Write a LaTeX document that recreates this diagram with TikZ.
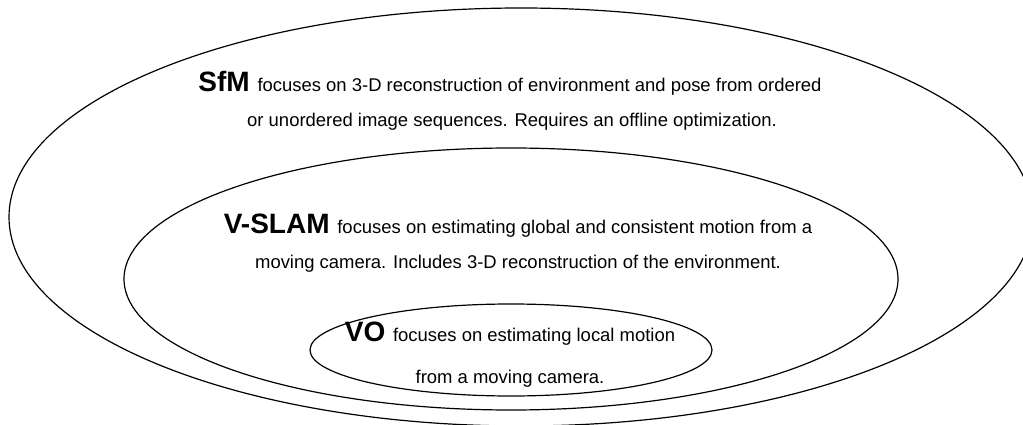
\documentclass[tikz,border=0pt]{standalone}
\usepackage{fontspec}
\setmainfont{Liberation Sans}
\usetikzlibrary{shapes.geometric}
\tikzset{
  ring/.style={ellipse, draw=black, line width=1.2pt, inner sep=0pt, outer sep=0pt},
  txt/.style={anchor=base, inner sep=0pt, font=\fontsize{18.45}{22}\selectfont},
}
\newcommand{\lbl}[1]{{\fontsize{28}{30}\selectfont\bfseries #1 }}
\begin{document}
\begin{tikzpicture}[x=1pt,y=-1pt]
\useasboundingbox (0,0) rectangle (1023,425);
\fill[white] (0,0) rectangle (1023,425);
\begin{scope}
\clip (0,0) rectangle (1023,425);
\node[ring, minimum width=1024pt, minimum height=418pt] (sfm) at (521,217) {};
\end{scope}
\node[ring, minimum width=774pt, minimum height=262pt] (vslam) at (511,279) {};
\node[ring, minimum width=402pt, minimum height=92pt] (vo) at (511,350) {};

\node[txt] (sfm1) at (510,92) {\lbl{SfM}focuses on 3-D reconstruction of environment and pose from ordered};
\node[txt] (sfm2) at (512,127) {or unordered image sequences. Requires an offline optimization.};

\node[txt] (vs1) at (518,233) {\lbl{V-SLAM}focuses on estimating global and consistent motion from a};
\node[txt] (vs2) at (518,268) {moving camera. Includes 3-D reconstruction of the environment.};

\node[txt] (vo1) at (510,341) {\lbl{VO}focuses on estimating local motion};
\node[txt] (vo2) at (510,383) {from a moving camera.};
\end{tikzpicture}
\end{document}
